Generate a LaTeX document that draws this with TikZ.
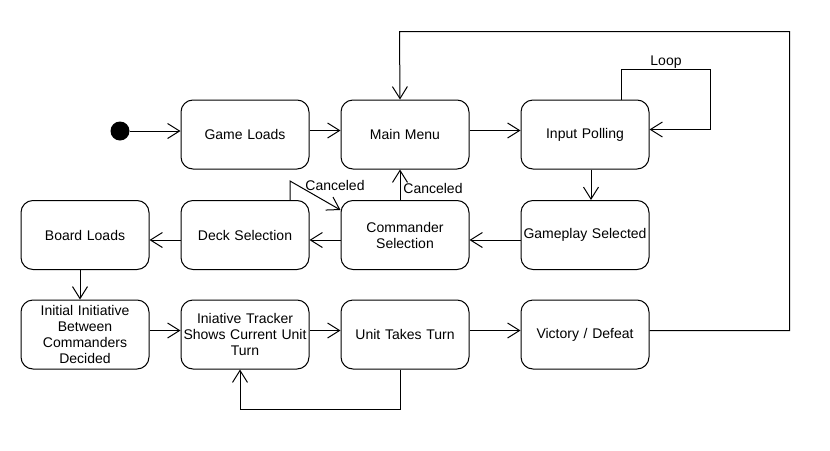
\documentclass[tikz,border=0pt]{standalone}
\usepackage{fontspec}
\setmainfont{Liberation Sans}
\usetikzlibrary{arrows.meta}

\tikzset{
  state/.style={draw, line width=1pt, rounded corners=12pt, minimum width=128pt, minimum height=69pt,
    text width=124pt, inner sep=2pt, align=center, font=\fontsize{14}{16}\selectfont},
  trans/.style={line width=1pt, -{Straight Barb[length=12pt,width=15pt,line width=1pt]}},
  lbl/.style={inner sep=1pt, font=\fontsize{14}{16}\selectfont}
}

\begin{document}
\begin{tikzpicture}[x=1pt,y=-1pt]
  \useasboundingbox[fill=white] (0,0) rectangle (830,450);

  % Start
  \node[circle,fill=black,minimum size=19pt,inner sep=0pt] (start) at (120,131) {};
  \node[state] (load) at (245,134.5) {Game Loads};
  \node[state] (menu) at (405,134.5) {Main Menu};
  \node[state] (poll) at (585,134.5) {Input Polling};

  % Selection
  \node[state] (board) at (85,235) {Board Loads};
  \node[state] (deck) at (245,235) {Deck Selection};
  \node[state] (cmd) at (405,235) {Commander\\Selection};
  \node[state] (play) at (585,235) {Gameplay Selected};

  % Gameplay
  \node[state] (init) at (85,334.5) {Initial Initiative\\Between\\Commanders\\Decided};
  \node[state] (track) at (245,334.5) {Iniative Tracker\\Shows Current Unit\\Turn};
  \node[state] (turn) at (405,334.5) {Unit Takes Turn};
  \node[state] (win) at (585,334.5) {Victory / Defeat};

  % Labels
  \node[lbl] (cancel1) at (335,185) {Canceled};
  \node[lbl] (cancel2) at (433,188) {Canceled};
  \node[lbl] (loop) at (666,62) {Loop};

  % Row 1
  \draw[trans] (start) -- (load.west |- start);
  \draw[trans] ([yshift=4pt]load.east) -- ([yshift=4pt]menu.west);
  \draw[trans] ([yshift=4pt]menu.east) -- ([yshift=4pt]poll.west);
  \draw[trans] ([xshift=36pt]poll.north) -- ++(0,-30) -- ++(89,0) |- ([yshift=5pt]poll.east);
  \draw[trans] ([xshift=6pt]poll.south) -- ([xshift=6pt]play.north);

  % Row 2
  \draw[trans] ([yshift=-5pt]play.west) -- ([yshift=-5pt]cmd.east);
  \draw[trans] ([yshift=-5pt]cmd.west) -- ([yshift=-5pt]deck.east);
  \draw[trans] ([yshift=-5pt]deck.west) -- ([yshift=-5pt]board.east);
  \draw[trans] ([xshift=-5pt]cmd.north) -- ([xshift=-5pt]menu.south);
  \draw[trans] ([xshift=45pt]deck.north) -- ++(0,-19) -- ([yshift=-10pt]cmd.north west);
  \draw[trans] ([xshift=-5pt]board.south) -- ([xshift=-5pt]init.north);

  % Row 3
  \draw[trans] ([yshift=4pt]init.east) -- ([yshift=4pt]track.west);
  \draw[trans] ([yshift=4pt]track.east) -- ([yshift=4pt]turn.west);
  \draw[trans] ([yshift=4pt]turn.east) -- ([yshift=4pt]win.west);
  \draw[trans] ([xshift=-5pt]turn.south) -- ++(0,40) -- ++(-160,0) -- ([xshift=-5pt]track.south);
  \draw[trans] ([yshift=4pt]win.east) -- ++(140,0) -- ++(0,-299) -- ++(-390,0) -- ([xshift=-5pt]menu.north);
\end{tikzpicture}
\end{document}
